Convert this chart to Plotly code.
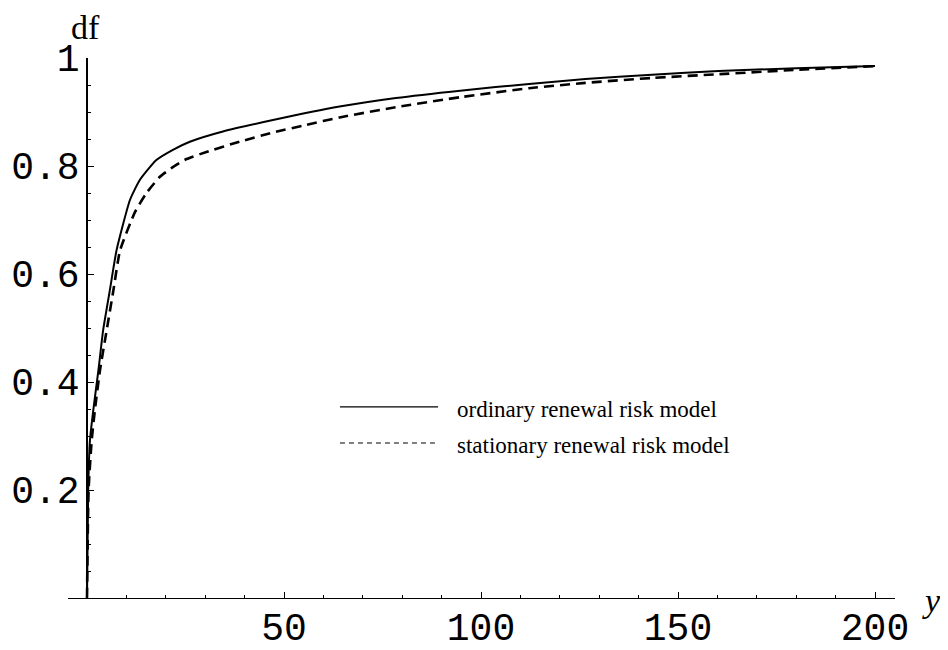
import plotly.graph_objects as go

# --- data ---
ordinary_x = [0, 0.3, 0.76, 1.6, 2.9, 4.1, 5.8, 7.5, 10.9, 13.4, 17.6, 21.8, 26.1, 34.5,
              47.2, 64.1, 78.4, 95.3, 112.2, 126.5, 143.4, 160.3, 180, 200]
ordinary_y = [0, 0.2, 0.293, 0.348, 0.422, 0.496, 0.570, 0.644, 0.737, 0.774, 0.811, 0.830,
              0.845, 0.864, 0.885, 0.910, 0.926, 0.940, 0.952, 0.961, 0.969, 0.976, 0.981, 0.985]

stationary_x = [0, 0.4, 1.2, 2.0, 3.3, 5.0, 6.7, 8.4, 12.2, 15.1, 18.5, 21.8, 25.0, 30.3, 38.7,
                47.2, 55.6, 64.1, 78.4, 95.3, 112.2, 126.5, 143.4, 160.3, 180, 200]
stationary_y = [0, 0.2, 0.293, 0.348, 0.422, 0.496, 0.570, 0.644, 0.715, 0.750, 0.780, 0.798,
                0.812, 0.826, 0.845, 0.862, 0.876, 0.890, 0.909, 0.928, 0.944, 0.954, 0.963,
                0.970, 0.978, 0.985]

x_tick_vals = [50, 100, 150, 200]
x_tick_text = ["50", "100", "150", "200"]
y_tick_vals = [0.2, 0.4, 0.6, 0.8, 1.0]
y_tick_text = ["0.2", "0.4", "0.6", "0.8", "1"]

series_names = ["ordinary renewal risk model", "stationary renewal risk model"]

# --- layout geometry (page body has an 8px margin) ---
OFF = 8
W, H = 948 - OFF, 650 - OFF
ML, MT = 68 - OFF, 58 - OFF
plot_w, plot_h = 827, 540
MR = W - ML - plot_w
MB = H - MT - plot_h
X0PX = 87 - OFF      # figure pixel of x = 0
PXPU = 3.94          # pixels per x unit
x_lo = -(X0PX - ML) / PXPU
x_hi = x_lo + plot_w / PXPU

def px_to_paper_x(px):
    return (px - OFF - ML) / plot_w

def px_to_paper_y(py):
    return (H - MB - (py - OFF)) / plot_h

tick_font = dict(family="Liberation Mono, Courier New, monospace", size=38, color="black")
serif = "Liberation Serif, Times New Roman, serif"

fig = go.Figure()
fig.add_trace(go.Scatter(x=ordinary_x, y=ordinary_y, mode="lines", name=series_names[0],
                         line=dict(color="black", width=2, shape="spline", smoothing=0.5),
                         showlegend=False))
fig.add_trace(go.Scatter(x=stationary_x, y=stationary_y, mode="lines", name=series_names[1],
                         line=dict(color="black", width=2.6, dash="10px,6px",
                                   shape="spline", smoothing=0.5),
                         showlegend=False))

fig.update_layout(
    width=W, height=H,
    margin=dict(l=ML, r=MR, t=MT, b=MB, autoexpand=False),
    paper_bgcolor="white", plot_bgcolor="white",
    xaxis=dict(range=[x_lo, x_hi], showgrid=False, zeroline=False, automargin=False,
               showline=True, linecolor="black", linewidth=1,
               ticks="inside", ticklen=6, tickcolor="black", tickwidth=1,
               tickmode="array", tickvals=x_tick_vals, ticktext=x_tick_text,
               tickfont=tick_font, ticklabelstandoff=-5,
               minor=dict(tickmode="linear", tick0=0, dtick=10, ticks="inside",
                          ticklen=3, tickcolor="black", tickwidth=1),
               anchor="y"),
    yaxis=dict(range=[0, 1], showgrid=False, zeroline=False, automargin=False,
               showline=True, linecolor="black", linewidth=1.5,
               ticks="inside", ticklen=6, tickcolor="black", tickwidth=1,
               tickmode="array", tickvals=y_tick_vals, ticktext=y_tick_text,
               tickfont=tick_font, ticklabelstandoff=-1,
               minor=dict(tickmode="linear", tick0=0, dtick=0.05, ticks="inside",
                          ticklen=3, tickcolor="black", tickwidth=1),
               anchor="free", position=(X0PX - ML) / plot_w),
)

# axis labels
fig.add_annotation(x=px_to_paper_x(85), y=px_to_paper_y(27), xref="paper", yref="paper",
                   text="df", showarrow=False,
                   font=dict(family=serif, size=34, color="black"),
                   xanchor="center", yanchor="middle")
fig.add_annotation(x=px_to_paper_x(931), y=px_to_paper_y(600), xref="paper", yref="paper",
                   text="<i>y</i>", showarrow=False,
                   font=dict(family=serif, size=34, color="black"),
                   xanchor="center", yanchor="middle")

# legend (drawn manually)
leg_x0, leg_x1, leg_tx = 64.2, 89.1, 93.4
leg_y = [0.354, 0.287]
leg_dash = ["solid", "5px,4px"]
for name, yy, dsh in zip(series_names, leg_y, leg_dash):
    fig.add_shape(type="line", xref="x", yref="y", x0=leg_x0, x1=leg_x1, y0=yy, y1=yy,
                  line=dict(color="black", width=1.2, dash=dsh))
    fig.add_annotation(x=leg_tx, y=yy - 0.004, xref="x", yref="y", text=name, showarrow=False,
                       font=dict(family=serif, size=23, color="black"),
                       xanchor="left", yanchor="middle")

fig.write_html("out.html")
